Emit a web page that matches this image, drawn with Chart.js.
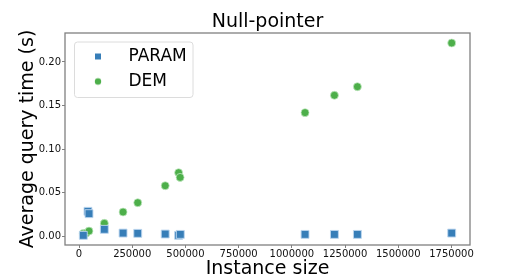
<!DOCTYPE html>
<html>
<head>
<meta charset="utf-8">
<script src="https://cdn.jsdelivr.net/npm/chart.js@4/dist/chart.umd.min.js"></script>
<style>
html,body{margin:0;padding:0;background:#fff;}
#wrap{width:525px;height:280px;position:relative;}
</style>
</head>
<body>
<div id="wrap"><canvas id="c"></canvas></div>
<script>
const chartTitle = "Null-pointer";
const xAxisTitle = "Instance size";
const yAxisTitle = "Average query time (s)";
const seriesNames = ["PARAM", "DEM"];

const paramX = [20200, 42000, 47000, 119000, 207000, 276000, 405000, 468000, 476000, 1062000, 1200000, 1308000, 1751000];
const paramY = [0.0008, 0.0284, 0.0257, 0.0077, 0.0034, 0.0031, 0.0023, 0.0008, 0.0019, 0.0019, 0.0019, 0.0019, 0.0034];

const demX = [20200, 33000, 47000, 119000, 207000, 276000, 405000, 468000, 475000, 1062000, 1200000, 1308000, 1751000];
const demY = [0.0030, 0.0032, 0.0057, 0.0146, 0.0276, 0.0383, 0.0578, 0.0728, 0.0674, 0.1418, 0.1617, 0.1716, 0.2218];

const xTicks = [0, 250000, 500000, 750000, 1000000, 1250000, 1500000, 1750000];
const yTicks = [0.00, 0.05, 0.10, 0.15, 0.20];

const blue = '#377eb8';
const green = '#4daf4a';
const FONT = "'DejaVu Sans', sans-serif";

function markerCanvas(kind, color) {
  const c = document.createElement('canvas');
  c.width = 10; c.height = 10;
  const g = c.getContext('2d');
  g.fillStyle = color;
  if (kind === 'rect') { g.fillRect(2, 2, 6, 6); }
  else { g.beginPath(); g.arc(5, 5, 3.2, 0, Math.PI * 2); g.fill(); }
  return c;
}
const legendMarkers = [markerCanvas('rect', blue), markerCanvas('circle', green)];

const framePlugin = {
  id: 'frames',
  afterLayout(chart) {
    const lg = chart.legend;
    if (lg) { lg.left = chart.chartArea.left + 3; lg.top = chart.chartArea.top + 7; }
  },
  beforeDraw(chart) {
    const ctx = chart.ctx, a = chart.chartArea;
    ctx.save();
    const x = a.left + 9.5, y = a.top + 9, w = 118.5, h = 55.5, r = 3;
    ctx.beginPath();
    ctx.moveTo(x + r, y); ctx.lineTo(x + w - r, y); ctx.quadraticCurveTo(x + w, y, x + w, y + r);
    ctx.lineTo(x + w, y + h - r); ctx.quadraticCurveTo(x + w, y + h, x + w - r, y + h);
    ctx.lineTo(x + r, y + h); ctx.quadraticCurveTo(x, y + h, x, y + h - r);
    ctx.lineTo(x, y + r); ctx.quadraticCurveTo(x, y, x + r, y);
    ctx.fillStyle = 'rgba(255,255,255,0.8)';
    ctx.fill();
    ctx.strokeStyle = '#dcdcdc';
    ctx.lineWidth = 1;
    ctx.stroke();
    ctx.restore();
  },
  afterDraw(chart) {
    const ctx = chart.ctx, a = chart.chartArea;
    ctx.save();
    ctx.strokeStyle = '#808080';
    ctx.lineWidth = 1.3;
    ctx.strokeRect(a.left, a.top, a.right - a.left, a.bottom - a.top);
    ctx.restore();
  }
};

new Chart(document.getElementById('c'), {
  type: 'scatter',
  data: {
    datasets: [
      {
        label: seriesNames[0],
        data: paramX.map((x, i) => ({x: x, y: paramY[i]})),
        pointStyle: 'rect',
        pointRadius: 5.6,
        backgroundColor: blue,
        borderColor: 'rgba(190,215,240,0.9)',
        borderWidth: 1
      },
      {
        label: seriesNames[1],
        data: demX.map((x, i) => ({x: x, y: demY[i]})),
        pointStyle: 'circle',
        pointRadius: 4,
        backgroundColor: green,
        borderColor: 'rgba(200,235,200,0.9)',
        borderWidth: 0.8
      }
    ]
  },
  options: {
    responsive: true,
    maintainAspectRatio: false,
    animation: false,
    events: [],
    layout: { padding: { left: 10, right: 0, top: 0, bottom: 0 } },
    plugins: {
      title: {
        display: true,
        text: chartTitle,
        color: '#000',
        font: { family: FONT, size: 19, weight: 'normal' },
        padding: { top: 10.2, bottom: 0 }
      },
      legend: {
        position: 'chartArea',
        align: 'start',
        labels: {
          color: '#000',
          font: { family: FONT, size: 17 },
          usePointStyle: true,
          pointStyleWidth: 44,
          padding: 8,
          generateLabels(chart) {
            const items = Chart.defaults.plugins.legend.labels.generateLabels(chart);
            items.forEach((it, i) => { it.pointStyle = legendMarkers[i]; it.lineWidth = 0; });
            return items;
          }
        }
      },
      tooltip: { enabled: false }
    },
    scales: {
      x: {
        type: 'linear',
        min: -65800,
        max: 1837000,
        border: { display: false },
        grid: { drawOnChartArea: false, drawTicks: true, tickLength: 3, color: '#808080' },
        afterBuildTicks(s) { s.ticks = xTicks.map(v => ({value: v})); },
        afterFit(s) { s.height = 35; },
        ticks: {
          color: '#111',
          padding: 0,
          maxRotation: 0,
          autoSkip: false,
          font: { family: FONT, size: 10 },
          callback: v => String(v)
        },
        title: {
          display: true,
          text: xAxisTitle,
          color: '#000',
          font: { family: FONT, size: 19 },
          padding: { top: 0, bottom: 0 }
        }
      },
      y: {
        type: 'linear',
        min: -0.0103,
        max: 0.2333,
        border: { display: false },
        grid: { drawOnChartArea: false, drawTicks: true, tickLength: 3, color: '#808080' },
        afterBuildTicks(s) { s.ticks = yTicks.map(v => ({value: v})); },
        afterFit(s) { s.width = 55; },
        ticks: {
          color: '#111',
          padding: 1,
          autoSkip: false,
          font: { family: FONT, size: 10 },
          callback: v => Number(v).toFixed(2)
        },
        title: {
          display: true,
          text: yAxisTitle,
          color: '#000',
          font: { family: FONT, size: 19 },
          padding: { top: 6.6, bottom: 0 }
        }
      },
      yRight: {
        type: 'linear',
        position: 'right',
        display: true,
        border: { display: false },
        grid: { display: false },
        ticks: { display: false },
        afterFit(s) { s.width = 55; }
      }
    }
  },
  plugins: [framePlugin]
});
</script>
</body>
</html>
